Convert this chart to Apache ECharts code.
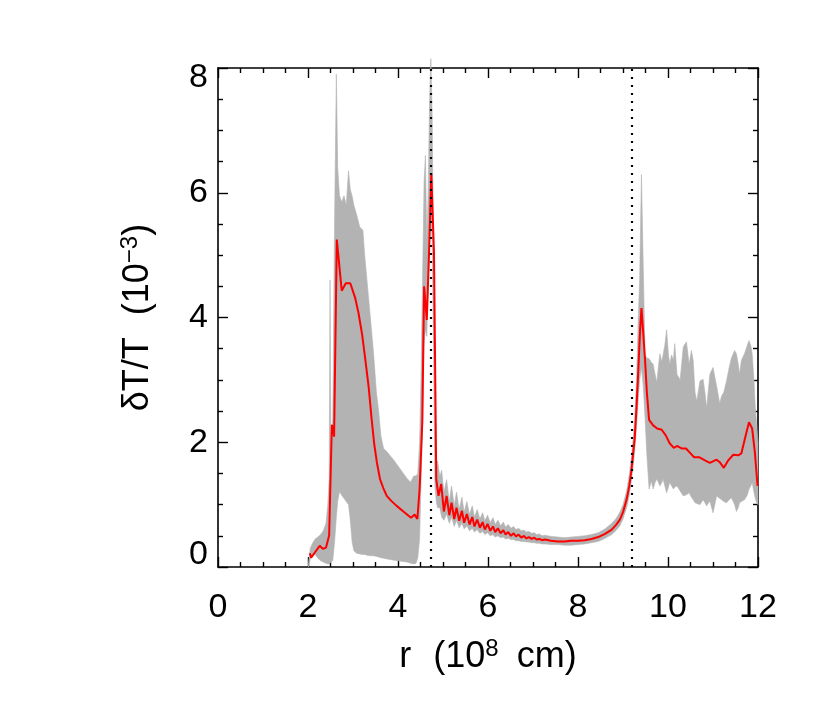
<!DOCTYPE html>
<html>
<head>
<meta charset="utf-8">
<script src="https://cdn.jsdelivr.net/npm/echarts@6/dist/echarts.min.js"></script>
<style>html,body{margin:0;padding:0;background:#fff}#c{width:822px;height:706px}</style>
</head>
<body>
<div id="c"></div>
<script>
// ---- data ----
const xTicks = [0, 2, 4, 6, 8, 10, 12];
const yTicks = [0, 2, 4, 6, 8];
const dividers = [4.73, 9.20];

// mean profile (red)
const redR = [2.04,2.07,2.16,2.26,2.33,2.40,2.47,2.53,2.58,2.64,2.75,2.84,2.94,3.05,3.12,3.20,3.27,3.35,3.41,3.47,3.53,3.60,3.67,3.75,3.85,3.97,4.12,4.29,4.37,4.43,4.48,4.54,4.58,4.64,4.69,4.74,4.80,4.85,
 4.90,4.96,5.02,5.08,5.14,5.19,5.25,5.30,5.36,5.42,5.47,5.53,5.59,5.65,5.70,5.76,5.82,5.88,5.93,5.99,6.05,6.11,6.16,6.22,6.28,6.34,6.39,6.45,6.51,6.57,6.62,6.68,6.74,6.80,6.85,6.91,6.97,7.03,7.08,7.14,7.20,7.26,7.40,7.55,7.70,7.85,8.00,8.15,8.30,8.45,8.60,8.75,8.85,8.93,9.00,9.08,9.14,9.19,9.23,9.26,9.30,9.34,9.38,9.41,9.45,9.49,9.53,9.58,
 9.67,9.76,9.86,9.95,10.04,10.13,10.20,10.30,10.40,10.49,10.58,10.69,10.82,10.93,11.08,11.15,11.24,11.34,11.45,11.56,11.63,11.71,11.80,11.87,11.93,11.99];
const redV = [0.22,0.15,0.24,0.34,0.29,0.31,0.51,2.28,2.09,5.25,4.43,4.55,4.55,4.31,4.08,3.74,3.35,2.87,2.40,1.98,1.68,1.41,1.27,1.14,1.06,0.98,0.89,0.79,0.84,0.77,1.25,2.33,4.50,3.96,5.04,6.31,5.04,1.41,
 1.14,1.33,0.89,1.14,0.83,1.03,0.77,0.95,0.74,0.90,0.71,0.85,0.68,0.80,0.65,0.76,0.63,0.72,0.60,0.69,0.58,0.65,0.56,0.62,0.54,0.59,0.52,0.56,0.50,0.54,0.49,0.52,0.47,0.50,0.46,0.48,0.45,0.47,0.44,0.45,0.43,0.44,0.42,0.41,0.41,0.42,0.42,0.43,0.45,0.48,0.53,0.60,0.68,0.76,0.88,1.08,1.30,1.57,1.85,2.06,2.55,3.15,3.80,4.15,3.75,3.31,2.80,2.36,
 2.27,2.22,2.20,2.11,1.98,1.91,1.94,1.90,1.90,1.83,1.76,1.76,1.71,1.67,1.72,1.68,1.59,1.71,1.80,1.79,1.82,2.06,2.32,2.22,1.84,1.30];

// spread envelope (grey band)
const bandR = [2.01,2.05,2.10,2.16,2.22,2.28,2.34,2.40,2.44,2.47,2.49,2.51,2.55,2.59,2.63,2.66,2.70,2.75,2.80,2.85,2.90,2.94,2.98,3.02,3.08,3.15,3.22,3.26,3.31,3.38,3.46,3.52,3.57,3.62,3.68,3.75,3.83,3.90,4.00,4.10,4.20,4.28,4.35,4.40,4.44,4.48,4.51,4.55,4.58,4.61,4.64,4.67,4.70,4.73,4.76,4.79,4.82,4.85,
 4.88,4.93,4.97,5.02,5.08,5.14,5.19,5.25,5.30,5.36,5.42,5.47,5.53,5.59,5.65,5.70,5.76,5.82,5.88,5.93,5.99,6.05,6.11,6.16,6.22,6.28,6.34,6.39,6.45,6.51,6.57,6.62,6.68,6.74,6.80,6.85,6.91,6.97,7.03,7.08,7.14,7.20,7.26,7.40,7.55,7.70,7.85,8.00,8.15,8.30,8.45,8.60,8.75,8.85,8.93,9.00,9.08,9.14,9.19,9.23,9.26,9.30,9.34,9.37,9.41,9.45,9.49,9.53,9.58,
 9.63,9.67,9.71,9.75,9.79,9.82,9.86,9.89,9.93,9.97,10.01,10.04,10.08,10.12,10.15,10.20,10.27,10.34,10.41,10.47,10.52,10.56,10.60,10.64,10.71,10.78,10.82,10.86,10.93,11.00,11.04,11.08,11.15,11.19,11.24,11.30,11.36,11.41,11.48,11.52,11.56,11.59,11.63,11.70,11.76,11.80,11.84,11.87,11.91,11.94,11.97,12.00];
const bandLo = [0.00,0.12,0.18,0.20,0.14,0.10,0.08,0.06,0.05,0.05,0.06,0.08,0.10,0.40,0.80,1.05,1.21,1.15,1.10,1.05,1.00,0.75,0.40,0.26,0.22,0.21,0.20,0.20,0.19,0.18,0.18,0.17,0.16,0.15,0.14,0.13,0.12,0.11,0.10,0.09,0.08,0.06,0.05,0.06,0.15,0.45,1.30,2.40,3.60,3.80,3.70,4.50,5.20,5.70,5.20,3.50,1.30,1.05,
 0.95,0.95,0.80,0.75,0.85,0.70,0.80,0.65,0.75,0.63,0.70,0.61,0.66,0.58,0.62,0.56,0.60,0.54,0.57,0.52,0.55,0.50,0.52,0.48,0.50,0.47,0.48,0.45,0.46,0.44,0.44,0.42,0.42,0.41,0.41,0.40,0.40,0.39,0.39,0.38,0.38,0.37,0.37,0.36,0.36,0.35,0.35,0.36,0.37,0.39,0.41,0.46,0.52,0.59,0.66,0.77,0.95,1.15,1.40,1.65,1.85,2.25,2.70,3.00,3.20,2.90,2.40,1.80,1.25,
 1.38,1.25,1.35,1.41,1.35,1.30,1.35,1.41,1.30,1.19,1.28,1.36,1.30,1.25,1.28,1.30,1.22,1.14,1.16,1.19,1.12,1.08,1.03,1.02,1.00,1.08,1.03,0.98,1.06,0.87,1.00,1.14,1.10,1.08,1.05,1.03,1.08,1.11,1.00,0.89,0.95,1.03,1.05,1.08,1.15,1.25,1.30,1.36,1.20,1.10,1.03,1.00];
const bandHi = [0.05,0.30,0.38,0.45,0.48,0.52,0.58,0.70,1.00,1.40,4.60,1.80,2.40,5.50,7.90,6.40,5.95,5.85,5.95,5.80,6.35,6.05,5.95,5.80,5.65,5.45,5.40,5.00,4.60,4.05,3.40,2.80,2.50,2.10,1.90,1.85,1.78,1.72,1.62,1.52,1.42,1.36,1.46,1.46,1.50,2.00,3.00,4.80,6.20,6.60,5.20,6.00,7.40,8.15,7.20,5.00,2.00,1.60,
 1.70,1.45,1.55,1.20,1.40,1.05,1.30,0.98,1.20,0.92,1.12,0.88,1.05,0.84,0.98,0.80,0.92,0.77,0.87,0.74,0.83,0.71,0.79,0.68,0.75,0.66,0.72,0.64,0.68,0.62,0.65,0.60,0.62,0.58,0.59,0.56,0.57,0.54,0.55,0.52,0.53,0.50,0.51,0.49,0.48,0.47,0.48,0.49,0.50,0.52,0.55,0.61,0.70,0.78,0.88,1.00,1.22,1.48,1.78,2.10,2.40,3.00,4.00,4.60,6.29,4.80,3.40,3.35,3.34,
 3.28,3.25,3.10,2.96,3.23,3.42,3.29,3.40,3.56,3.80,3.40,3.25,3.40,3.31,3.58,3.09,3.00,3.53,3.61,3.25,3.47,3.31,2.80,2.66,2.98,3.01,2.80,2.55,3.09,3.20,3.05,2.90,2.62,2.74,2.80,2.98,3.20,3.35,3.47,3.42,3.26,3.09,3.31,3.42,3.55,3.63,3.55,3.42,3.00,2.55,2.30,2.00];

// ---- chart ----
const FONT = 'Liberation Sans';
const zip = (a, b) => a.map((v, i) => [v, b[i]]);
const chart = echarts.init(document.getElementById('c'), null, {renderer: 'canvas'});

const axisCommon = {
  type: 'value',
  axisLine: {show: true, onZero: false, lineStyle: {color: '#000', width: 1.6}},
  axisTick: {show: true, inside: true, length: 10, lineStyle: {color: '#000', width: 1.4}},
  minorTick: {show: true, splitNumber: 4, length: 5, lineStyle: {color: '#000', width: 1.4}},
  splitLine: {show: false},
  minorSplitLine: {show: false}
};
const txt = (size, extra) => Object.assign({fontFamily: FONT, fontSize: size, color: '#000'}, extra || {});

const option = {
  animation: false,
  backgroundColor: '#fff',
  grid: {left: 218, right: 64, top: 68, bottom: 139, containLabel: false},
  xAxis: [
    Object.assign({}, axisCommon, {
      position: 'bottom', min: 0, max: 12, interval: 2,
      name: '{r|r}{t|(10}{s|8}{c|cm)}', nameLocation: 'middle', nameGap: 70,
      nameTextStyle: {rich: {
        r: txt(36, {padding: [0, 22, 0, 0]}),
        t: txt(36),
        s: txt(24, {padding: [0, 0, 16, 0]}),
        c: txt(36, {padding: [0, 0, 0, 18]})
      }},
      axisLabel: {show: true, margin: 24, fontFamily: FONT, fontSize: 34, color: '#000',
        formatter: v => xTicks.indexOf(v) >= 0 ? String(v) : ''}
    }),
    Object.assign({}, axisCommon, {
      position: 'top', min: 0, max: 12, interval: 2, axisLabel: {show: false}
    })
  ],
  yAxis: [
    Object.assign({}, axisCommon, {
      position: 'left', min: 0, max: 8, interval: 2,
      name: '{d|δT/T}{t|(10}{s|−3}{t|)}', nameLocation: 'middle', nameGap: 60, nameRotate: 90,
      nameTextStyle: {rich: {
        d: txt(36, {padding: [0, 22, 0, 0]}),
        t: txt(36),
        s: txt(24, {padding: [0, 0, 16, 0]})
      }},
      axisLabel: {show: true, margin: 10, fontFamily: FONT, fontSize: 34, color: '#000',
        formatter: v => {
          if (yTicks.indexOf(v) < 0) return '';
          if (v === yTicks[0]) return '{lo|' + v + '}';
          if (v === yTicks[yTicks.length - 1]) return '{hi|' + v + '}';
          return '{m|' + v + '}';
        },
        rich: {
          lo: txt(34, {padding: [0, 0, 24, 0]}),
          hi: txt(34, {padding: [20, 0, 0, 0]}),
          m: txt(34)
        }
      }
    }),
    Object.assign({}, axisCommon, {
      position: 'right', min: 0, max: 8, interval: 2, axisLabel: {show: false}
    })
  ],
  series: [
    {
      type: 'custom', name: 'spread', silent: true, clip: false, z: 1,
      data: [0],
      renderItem: (params, api) => {
        const upper = bandR.map((r, i) => api.coord([r, bandHi[i]]));
        const lower = bandR.map((r, i) => api.coord([r, bandLo[i]])).reverse();
        return {
          type: 'polygon',
          shape: {points: upper.concat(lower)},
          style: {fill: '#b3b3b3', stroke: '#b3b3b3', lineWidth: 0.6}
        };
      }
    },
    {
      type: 'line', name: 'mean', data: zip(redR, redV),
      symbol: 'none', silent: true, lineStyle: {color: '#ff0000', width: 2}, z: 3,
      markLine: {
        silent: true, symbol: ['none', 'none'], label: {show: false},
        lineStyle: {color: '#000', type: [2, 6], width: 2.2},
        data: dividers.map(d => ({xAxis: d}))
      }
    }
  ]
};
chart.setOption(option);
</script>
</body>
</html>
